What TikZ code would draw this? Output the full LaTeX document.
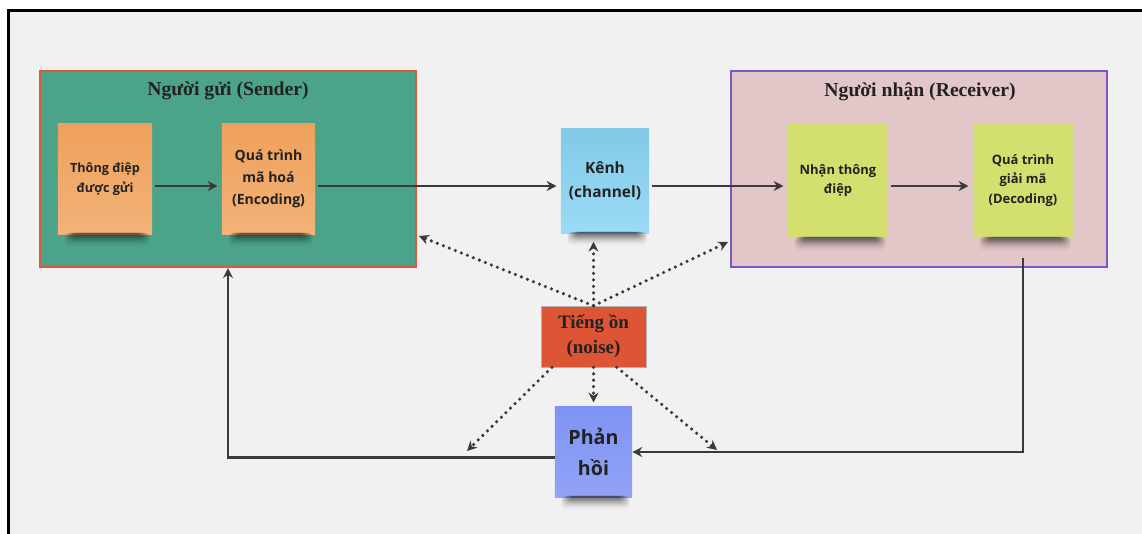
\documentclass[tikz,border=0pt]{standalone}
\usepackage{fontspec}
\setmainfont{Liberation Serif}
\newfontfamily\notefont{Open Sans}
\usetikzlibrary{arrows.meta, fadings}

\definecolor{paper}{HTML}{F1F1F1}
\definecolor{senderfill}{HTML}{4BA489}
\definecolor{senderline}{HTML}{E0573B}
\definecolor{receiverfill}{HTML}{E3C6C8}
\definecolor{receiverline}{HTML}{7C55C6}
\definecolor{orangenote}{HTML}{EFA15B}
\definecolor{bluenote}{HTML}{89D4F4}
\definecolor{limenote}{HTML}{D3DF6F}
\definecolor{feedbacknote}{HTML}{7F93F4}
\definecolor{noisefill}{HTML}{DE5535}
\definecolor{lineink}{HTML}{3A3A3A}
\definecolor{textink}{HTML}{222222}

\tikzset{
    groupbox/.style={rectangle, draw, line width=1.6pt, minimum width=9.4cm, minimum height=4.9cm},
    grouptitle/.style={font=\fontsize{14}{16}\selectfont\bfseries, text=textink},
    sticky/.style={rectangle, align=center, inner sep=0pt, text=textink, font=\notefont\fontsize{10}{15.5}\selectfont\bfseries},
    flow/.style={draw=lineink, line width=2pt, -{Stealth[length=7pt, width=7pt]}},
    noisy/.style={draw=lineink, line width=2.5pt, line cap=round, dash pattern=on 0pt off 4.6pt, -{Stealth[length=7pt, width=7pt]}},
}
% soft shadow under a sticky note
\newcommand\noteshadow[1]{%
    \foreach \k in {0,...,4}{
        \fill[black, opacity=0.15, path fading=south, rounded corners=3pt]
            ([xshift={5pt+\k*1.5pt}, yshift=1pt]#1.south west) rectangle ([xshift={-2pt-\k*1.5pt}, yshift={-9pt+\k*1.3pt}]#1.south east);
    }}

\begin{document}
\begin{tikzpicture}[x=0.025cm, y=-0.025cm]
    \useasboundingbox (0,0) rectangle (1142,533);
    \clip (0,0) rectangle (1142,533);
    \fill[white] (0,0) rectangle (1142,533);
    \draw[line width=2.2pt, fill=paper] (8.5,10.5) rectangle (1170,560);

    % sender
    \node[groupbox, draw=senderline, fill=senderfill] (sender) at (228,169) {};
    \node[grouptitle] (sendertitle) at (228,91) {Người gửi (Sender)};
    \node[sticky, top color=orangenote, bottom color=orangenote!82!white, minimum width=2.35cm, minimum height=2.75cm,
          font=\notefont\fontsize{9}{14.5}\selectfont\bfseries] (sent) at (105,179) {Thông điệp\\được gửi};
    \node[sticky, top color=orangenote, bottom color=orangenote!82!white, minimum width=2.325cm, minimum height=2.75cm] (encode) at (268.5,179) {Quá trình\\mã hoá\\(Encoding)};

    % channel
    \node[sticky, top color=bluenote!95!black, bottom color=bluenote!85!white, minimum width=2.2cm, minimum height=2.6cm,
          font=\notefont\fontsize{11}{17}\selectfont\bfseries] (channel) at (605,181) {Kênh\\(channel)};

    % receiver
    \node[groupbox, draw=receiverline, fill=receiverfill] (receiver) at (919,169) {};
    \node[grouptitle] (receivertitle) at (920,92) {Người nhận (Receiver)};
    \node[sticky, fill=limenote, minimum width=2.5cm, minimum height=2.875cm,
          font=\notefont\fontsize{9.2}{14}\selectfont\bfseries] (receive) at (838,180.5) {Nhận thông\\điệp};
    \node[sticky, fill=limenote, minimum width=2.5cm, minimum height=2.875cm,
          font=\notefont\fontsize{9.2}{14}\selectfont\bfseries] (decode) at (1023,180.5) {Quá trình\\giải mã\\(Decoding)};

    % noise and feedback
    \node[rectangle, draw=gray!60, fill=noisefill, minimum width=2.625cm, minimum height=1.525cm, align=center, text=textink,
          font=\fontsize{13.5}{17.7}\selectfont\bfseries] (noise) at (593.5,336.5) {Tiếng ồn\\(noise)};
    \node[sticky, top color=feedbacknote, bottom color=feedbacknote!85!white, minimum width=1.925cm, minimum height=2.25cm,
          font=\notefont\fontsize{14}{22}\selectfont\bfseries] (feedback) at (593.5,452) {Phản\\hồi};

    \foreach \n in {sent, encode, channel, receive, decode, feedback}{
        \noteshadow{\n}
    }

    % main flow
    \coordinate (flowline) at (0,186);
    \draw[flow, shorten <=2pt, shorten >=3pt] (sent.east |- flowline) -- (encode.west |- flowline);
    \draw[flow, shorten <=2pt, shorten >=3pt] (encode.east |- flowline) -- (channel.west |- flowline);
    \draw[flow, shorten <=2pt, shorten >=3pt] (channel.east |- flowline) -- (receive.west |- flowline);
    \draw[flow, shorten <=2pt, shorten >=3pt] (receive.east |- flowline) -- (decode.west |- flowline);

    % feedback loop
    \draw[flow] ([yshift=-14pt]decode.south) |- (feedback.east);
    \draw[flow] ([yshift=-4pt]feedback.west) -| (sender.south);

    % noise
    \coordinate (hitsender) at (419,236);
    \coordinate (hitreceiver) at (728,242);
    \coordinate (dropleft) at (467,451);
    \coordinate (dropright) at (717,450);
    \draw[noisy] (noise.north) -- (hitsender);
    \draw[noisy, shorten >=6pt] (noise.north) -- (noise.north |- channel.south);
    \draw[noisy] (noise.north) -- (hitreceiver);
    \draw[noisy] ([xshift=8pt]noise.south west) -- (dropleft);
    \draw[noisy, shorten >=3pt] (noise.south) -- (feedback.north);
    \draw[noisy] ([xshift=-21pt]noise.south east) -- (dropright);
\end{tikzpicture}
\end{document}
